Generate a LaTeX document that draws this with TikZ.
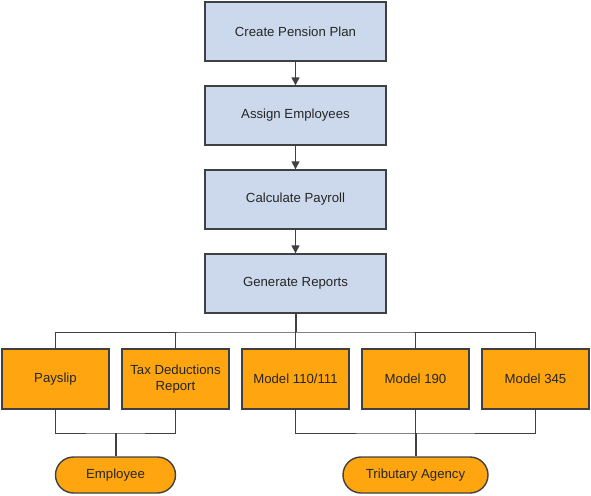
\documentclass[tikz,border=0pt]{standalone}
\usepackage{fontspec}
\setmainfont{Liberation Sans}
\usetikzlibrary{arrows.meta,shapes.misc}
\definecolor{stepblue}{HTML}{CCD9EC}
\definecolor{outorange}{HTML}{FFA50F}
\definecolor{edge}{HTML}{404040}
\begin{document}
\begin{tikzpicture}[x=1pt,y=-1pt,
  txt/.style={font=\fontsize{13.2}{15.5}\selectfont,text=black!85},
  stepbox/.style={txt,draw=edge,line width=1.4pt,fill=stepblue,minimum width=181pt,minimum height=59pt,inner sep=0pt},
  outbox/.style={txt,draw=edge,line width=1.4pt,fill=outorange,minimum width=107pt,minimum height=60pt,inner sep=0pt,align=center},
  pill/.style={txt,draw=edge,line width=1.4pt,fill=outorange,rounded rectangle,minimum height=36pt,inner sep=0pt},
  flow/.style={draw=edge,line width=1.4pt,-{Triangle[length=8pt,width=8pt]}},
  thin/.style={draw=edge,line width=0.9pt},
  trunk/.style={draw=edge,line width=2pt}]
\useasboundingbox (0,0) rectangle (591,495);
\node[stepbox] (s1) at (295.5,31.5) {Create Pension Plan};
\node[stepbox] (s2) at (295.5,115.5) {Assign Employees};
\node[stepbox] (s3) at (295.5,199.5) {Calculate Payroll};
\node[stepbox] (s4) at (295.5,283.5) {Generate Reports};
\draw[flow] (s1) -- (s2);
\draw[flow] (s2) -- (s3);
\draw[flow] (s3) -- (s4);
\node[outbox] (o1) at (55.5,379) {Payslip};
\node[outbox] (o2) at (175.5,379) {Tax Deductions\\Report};
\node[outbox] (o3) at (295.5,379) {Model 110/111};
\node[outbox] (o4) at (415.5,379) {Model 190};
\node[outbox] (o5) at (535.5,379) {Model 345};
\node[pill,minimum width=120pt] (p1) at (115.5,475) {Employee};
\node[pill,minimum width=145pt] (p2) at (415.5,475) {Tributary Agency};
\coordinate (bus) at (295.5,332);
\coordinate (lb) at (115.5,433);
\coordinate (rb) at (415.5,433);
\draw[trunk] (s4.south) -- (bus);
\draw[thin] (o1.north) |- (bus) -| (o5.north);
\draw[thin] (o2.north) -- (o2.north |- bus);
\draw[thin] (o3.north) -- (bus);
\draw[thin] (o4.north) -- (o4.north |- bus);
\draw[thin] (o1.south) |- (lb) -| (o2.south);
\draw[thin] (o3.south) |- (rb) -| (o5.south);
\draw[thin] (o4.south) -- (rb);
\draw[trunk] (lb) -- (p1.north);
\draw[trunk] (rb) -- (p2.north);
\end{tikzpicture}
\end{document}
